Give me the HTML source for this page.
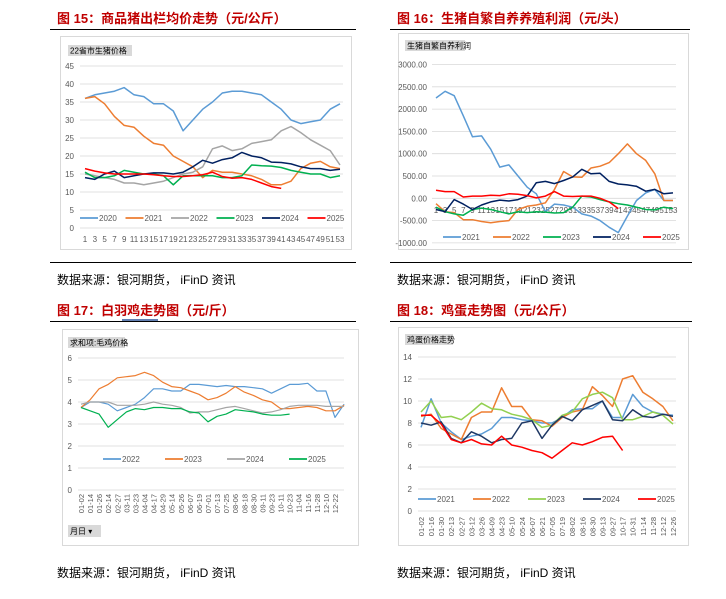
<!DOCTYPE html>
<html><head><meta charset="utf-8">
<style>
body{margin:0;background:#fff;width:726px;height:594px;overflow:hidden;font-family:"Liberation Sans","Noto Sans CJK SC",sans-serif}
svg text{font-family:"Liberation Sans","Noto Sans CJK SC",sans-serif}
</style></head><body>
<svg id="s" width="726" height="594" xmlns="http://www.w3.org/2000/svg">
<g font-size="13" font-weight="bold" fill="#c00000">
<text x="57" y="23">图 15：商品猪出栏均价走势（元/公斤）</text>
<text x="397" y="23">图 16：生猪自繁自养养殖利润（元/头）</text>
<text x="57" y="315">图 17：白羽鸡走势图（元/斤）</text>
<text x="397" y="315">图 18：鸡蛋走势图（元/公斤）</text>
</g>
<line x1="122" y1="320" x2="158" y2="320" stroke="#2f5597" stroke-width="1.5"/>
<g stroke="#000" stroke-width="1">
<line x1="50" y1="29.5" x2="356" y2="29.5"/><line x1="390" y1="29.5" x2="690" y2="29.5"/>
<line x1="50" y1="321.5" x2="356" y2="321.5"/><line x1="390" y1="321.5" x2="692" y2="321.5"/>
<line x1="50" y1="262.5" x2="356" y2="262.5"/><line x1="390" y1="262.5" x2="692" y2="262.5"/>
</g>
<g font-size="12" fill="#000">
<text x="57" y="284">数据来源：银河期货， iFinD 资讯</text>
<text x="397" y="284">数据来源：银河期货， iFinD 资讯</text>
<text x="57" y="577">数据来源：银河期货， iFinD 资讯</text>
<text x="397" y="577">数据来源：银河期货， iFinD 资讯</text>
</g>
<g fill="none" stroke="#d9d9d9">
<rect x="60.5" y="36.5" width="291" height="213"/>
<rect x="398.5" y="33.5" width="290" height="216"/>
<rect x="62.5" y="329.5" width="296" height="216"/>
<rect x="398.5" y="327.5" width="290" height="218"/>
</g>
<g font-size="8" fill="#000">
<rect x="68" y="45" width="64" height="11" fill="#d9d9d9"/><text x="70" y="53.5">22省市生猪价格</text>
<rect x="405" y="40" width="60" height="11" fill="#d9d9d9"/><text x="407" y="48.5">生猪自繁自养利润</text>
<rect x="68" y="337" width="57" height="11" fill="#d9d9d9"/><text x="70" y="345.5">求和项:毛鸡价格</text>
<rect x="405" y="334" width="48" height="11" fill="#d9d9d9"/><text x="407" y="342.5">鸡蛋价格走势</text>
<rect x="68" y="525" width="33" height="12" fill="#d9d9d9"/><text x="70" y="534">月日 ▾</text>
</g>
</svg>
<script>
// ---- Fig15 data (weekly, odd weeks) ----
const c1Weeks=[1,3,5,7,9,11,13,15,17,19,21,23,25,27,29,31,33,35,37,39,41,43,45,47,49,51,53];
const c1Y2020=[36,37,37.5,38,39,37,36.5,34.5,34.5,32.5,27,30,33,35,37.5,38,38,37.5,37,35,33,30,29,29.5,30,33,34.5];
const c1Y2021=[36,36.5,34.5,31,28.5,28,25.5,23.5,23,20,18.5,17,14,16,15.5,15.5,15,14.5,13.5,12,12,13,16.5,18,18.5,17,16.5];
const c1Y2022=[15,14.5,14,13.5,12.5,12.5,12,12.5,13,14,15,15.5,17,22,22.8,21.5,22,23.5,24,24.5,27,28.2,26.5,24.5,23,21.5,17.5];
const c1Y2023=[15.5,14,14,14.5,16,15.5,15,15,14.5,12,14.5,14.5,14.5,14.5,14,14,14.5,17.5,17.3,17.2,16.8,16,15.5,15,15,14,14.5];
const c1Y2024=[14,13.5,15,15.8,14,14.5,15,15.3,15.3,15,15.5,17,18.8,18,19,19.5,21,20,19.5,18.3,18.2,17.8,17,16.5,16.5,16,16.3];
const c1Y2025=[16.5,15.8,15.3,15,15,15,15,14.8,14.5,14.3,14.3,14.5,14.8,15.5,14.3,13.8,14,13.5,12.5,11.5,11];
const c1YTicks=[0,5,10,15,20,25,30,35,40,45];
// ---- Fig16 data ----
const c2Weeks=[1,3,5,7,9,11,13,15,17,19,21,23,25,27,29,31,33,35,37,39,41,43,45,47,49,51,53];
const c2Y2021=[2250,2400,2300,1850,1380,1400,1100,700,750,500,250,100,-300,-130,-150,-200,-350,-400,-500,-650,-770,-400,-50,120,200,-50,-50];
const c2Y2022=[-120,-300,-320,-480,-480,-520,-550,-520,-500,-250,-180,-150,-100,200,600,480,470,680,720,800,1000,1220,1000,850,550,-50,-50];
const c2Y2023=[-200,-300,-350,-380,-250,-220,-250,-300,-350,-300,-320,-300,-310,-330,-320,-200,50,30,-30,-80,-120,-150,-200,-250,-260,-200,-230];
const c2Y2024=[-250,-300,-30,-130,-250,-150,-80,-40,-60,-30,50,350,380,330,400,480,650,550,560,380,320,300,270,160,200,100,120];
const c2Y2025=[180,150,150,30,50,50,70,60,100,90,60,10,50,150,50,40,50,50,0,-80,-230];
const c2YTicks=[-1000,-500,0,500,1000,1500,2000,2500,3000];
// ---- Fig17 data ----
const c3Labels=["01-02","01-14","01-26","02-14","02-27","03-11","03-23","04-04","04-17","04-29","05-14","05-26","06-07","06-19","07-01","07-13","07-25","08-06","08-18","08-30","09-11","09-23","10-11","10-23","11-04","11-16","11-28","12-10","12-22"];
const c3Y2022=[3.75,4.0,4.0,3.9,3.6,3.75,3.9,4.2,4.6,4.6,4.5,4.5,4.8,4.8,4.75,4.7,4.75,4.7,4.7,4.65,4.6,4.4,4.6,4.8,4.8,4.85,4.5,4.5,3.3,3.9];
const c3Y2023=[3.75,4.1,4.6,4.8,5.1,5.15,5.2,5.35,5.2,4.9,4.7,4.65,4.5,4.35,4.1,4.2,4.4,4.7,4.45,4.3,4.1,4.0,3.7,3.7,3.75,3.8,3.75,3.6,3.6,3.85];
const c3Y2024=[3.9,4.0,4.0,4.0,3.85,3.85,3.85,3.9,4.0,3.9,3.85,3.75,3.5,3.55,3.55,3.65,3.75,3.8,3.7,3.6,3.5,3.55,3.65,3.8,3.85,3.85,3.85,3.8,3.8,3.8];
const c3Y2025=[3.75,3.6,3.45,2.85,3.2,3.55,3.7,3.65,3.75,3.75,3.7,3.7,3.55,3.5,3.1,3.35,3.45,3.65,3.6,3.55,3.45,3.4,3.4,3.45];
const c3YTicks=[0,1,2,3,4,5,6];
// ---- Fig18 data ----
const c4Labels=["01-02","01-16","01-30","02-13","02-27","03-12","03-26","04-09","04-23","05-10","05-24","06-07","06-21","07-05","07-19","08-02","08-16","08-30","09-13","09-27","10-17","10-31","11-14","11-28","12-12","12-26"];
const c4Y2021=[7.6,10.2,8.0,7.2,6.5,6.8,7.0,7.5,8.5,8.5,8.3,8.2,8.0,8.0,8.5,9.2,9.3,9.3,10.0,8.5,8.5,10.6,9.5,9.0,8.8,8.7];
const c4Y2022=[8.6,8.8,7.5,7.0,6.5,8.5,9.0,9.0,11.2,9.5,9.5,8.3,8.2,7.7,8.5,9.0,9.2,11.3,10.5,9.5,12.0,12.3,10.8,10.2,9.5,8.2];
const c4Y2023=[9.0,10.0,8.5,8.6,8.3,9.0,9.8,9.3,9.2,8.8,8.6,8.3,7.6,7.8,8.7,9.0,10.2,10.6,10.8,10.3,8.3,8.3,8.6,9.0,8.7,7.9];
const c4Y2024=[8.0,7.8,8.1,6.6,6.2,7.2,6.8,6.2,6.5,6.6,8.0,8.2,6.6,7.8,8.6,8.2,9.2,9.6,10.0,8.3,8.2,9.2,8.6,8.5,8.8,8.6];
const c4Y2025=[8.7,8.7,7.9,6.5,6.2,6.5,6.1,6.0,6.8,6.0,5.8,5.5,5.3,4.8,5.5,6.2,6.0,6.3,6.7,6.8,5.5];
const c4YTicks=[0,2,4,6,8,10,12,14];

const NS="http://www.w3.org/2000/svg";
const S=document.getElementById('s');
function mk(tag,attrs){const e=document.createElementNS(NS,tag);for(const k in attrs)e.setAttribute(k,attrs[k]);S.appendChild(e);return e;}
function txt(x,y,t,size,anchor,fill){const e=mk('text',{x:x,y:y,'font-size':size,'text-anchor':anchor||'start',fill:fill||'#595959'});e.textContent=t;return e;}

function series(xs,ys,fx,fy,color,name,w){
  let d='';ys.forEach((v,i)=>{d+=(i?'L':'M')+fx(xs[i]).toFixed(1)+','+fy(v).toFixed(1);});
  const p=mk('path',{d:d,fill:'none',stroke:color,'stroke-width':w||1.5,'stroke-linejoin':'round'});
  
  
}
function legend(x0,dx,y,names,colors,prefix){
  names.forEach((n,i)=>{
    const l=mk('line',{x1:x0+i*dx,y1:y,x2:x0+i*dx+18,y2:y,stroke:colors[i],'stroke-width':1.8});
    
    
    const t=txt(x0+i*dx+19,y+3,n,8);
    
    
  });
}
function grid(ticks,fy,x1,x2,lx,fmt,prefix){
  ticks.forEach(v=>{
    const l=mk('line',{x1:x1,x2:x2,y1:fy(v),y2:fy(v),stroke:'#d9d9d9','stroke-width':0.8});
    
    
    const t=txt(lx,fy(v)+3,fmt(v),8,'end');
    
    
  });
}
const cols=['#5b9bd5','#ed7d31','#a5a5a5','#00b050','#002060','#ff0000'];

// Fig15
{const fx=w=>85+(w-1)*(340-85)/52, fy=v=>228-v*162/45;
grid(c1YTicks,fy,80,343,74,v=>String(v),'fig15');
c1Weeks.forEach(w=>{const t=txt(fx(w),242,String(w),8,'middle');});
series(c1Weeks,c1Y2020,fx,fy,cols[0],'fig15-line-2020');
series(c1Weeks,c1Y2021,fx,fy,cols[1],'fig15-line-2021');
series(c1Weeks,c1Y2022,fx,fy,cols[2],'fig15-line-2022');
series(c1Weeks,c1Y2023,fx,fy,cols[3],'fig15-line-2023');
series(c1Weeks,c1Y2024,fx,fy,cols[4],'fig15-line-2024');
series(c1Weeks,c1Y2025,fx,fy,cols[5],'fig15-line-2025');
legend(80,45.5,218,['2020','2021','2022','2023','2024','2025'],cols,'fig15');}

// Fig16
{const fx=w=>436+(w-1)*(673-436)/52, fy=v=>198.3-v*0.0446;
grid(c2YTicks,fy,432,676,427,v=>v.toFixed(2),'fig16');
c2Weeks.forEach(w=>{const t=txt(fx(w),213,String(w),8,'middle');});
series(c2Weeks,c2Y2021,fx,fy,cols[0],'fig16-line-2021');
series(c2Weeks,c2Y2022,fx,fy,cols[1],'fig16-line-2022');
series(c2Weeks,c2Y2023,fx,fy,cols[3],'fig16-line-2023');
series(c2Weeks,c2Y2024,fx,fy,cols[4],'fig16-line-2024');
series(c2Weeks,c2Y2025,fx,fy,cols[5],'fig16-line-2025');
legend(443,50,237,['2021','2022','2023','2024','2025'],[cols[0],cols[1],cols[3],cols[4],cols[5]],'fig16');}

// Fig17
{const fx=i=>81+i*(335-81)/28, fy=v=>490-v*22;
grid(c3YTicks,fy,78,344,72,v=>String(v),'fig17');
const idx=c3Y2022.map((_,i)=>i);
c3Labels.forEach((l,i)=>{const t=txt(0,0,l,7.5,'end');t.setAttribute('transform','translate('+(fx(i)+3)+',494) rotate(-90)');});
series(idx,c3Y2022,fx,fy,cols[0],'fig17-line-2022',1.2);
series(idx,c3Y2023,fx,fy,cols[1],'fig17-line-2023',1.2);
series(idx,c3Y2024,fx,fy,cols[2],'fig17-line-2024',1.2);
series(idx,c3Y2025,fx,fy,cols[3],'fig17-line-2025',1.2);
legend(103,62,459,['2022','2023','2024','2025'],[cols[0],cols[1],cols[2],cols[3]],'fig17');}

// Fig18
{const fx=i=>421+i*(673-421)/25, fy=v=>511-v*11;
grid(c4YTicks,fy,418,676,412,v=>String(v),'fig18');
const idx=c4Y2021.map((_,i)=>i);
c4Labels.forEach((l,i)=>{const t=txt(0,0,l,7.5,'end');t.setAttribute('transform','translate('+(fx(i)+3)+',517) rotate(-90)');});
series(idx,c4Y2021,fx,fy,cols[0],'fig18-line-2021');
series(idx,c4Y2022,fx,fy,cols[1],'fig18-line-2022');
series(idx,c4Y2023,fx,fy,'#92d050','fig18-line-2023');
series(idx,c4Y2024,fx,fy,'#1f3864','fig18-line-2024');
series(idx,c4Y2025,fx,fy,cols[5],'fig18-line-2025');
legend(418,55,499,['2021','2022','2023','2024','2025'],[cols[0],cols[1],'#92d050','#1f3864',cols[5]],'fig18');}
</script>
</body></html>
